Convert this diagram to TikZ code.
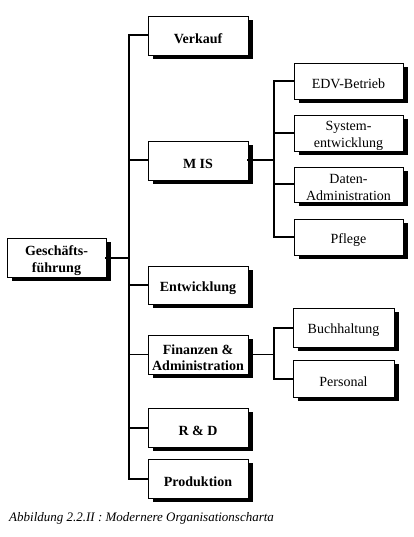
\documentclass[tikz,border=0pt]{standalone}
\usepackage{fontspec}
\setmainfont{Liberation Serif}
\usetikzlibrary{shadows}
\begin{document}
\begin{tikzpicture}[x=1pt,y=-1pt,
  box/.style={draw=black,line width=0.8pt,fill=white,rectangle,
    inner sep=0pt,
    general shadow={fill=black,shadow xshift=5pt,shadow yshift=-4pt}},
  mtxt/.style={font=\fontsize{14}{16.5}\selectfont\bfseries,align=center,inner sep=0pt,yshift=-3pt},
  stxt/.style={font=\fontsize{14}{16.5}\selectfont,align=center,inner sep=0pt,yshift=-3pt},
  mainbox/.style={box,minimum width=100pt,minimum height=39pt},
  subbox/.style={box,minimum height=36pt},
  thickline/.style={line width=2pt,line join=miter,line cap=rect},
  thinline/.style={line width=0.9pt}]
\useasboundingbox (0,0) rectangle (413,537);
% main boxes
\node[mainbox,minimum width=99pt,label={[mtxt]center:Geschäfts-\\führung}] (gf) at (56.5,257.5) {};
\node[mainbox,label={[mtxt]center:Verkauf}] (verk) at (198,35.5) {};
\node[mainbox,label={[mtxt]center:M IS}] (mis) at (198,160.5) {};
\node[mainbox,minimum height=38pt,label={[mtxt]center:Entwicklung}] (entw) at (198,285) {};
\node[mainbox,label={[mtxt]center:Finanzen \&\\Administration}] (fin) at (198,354.5) {};
\node[mainbox,label={[mtxt]center:R \& D}] (rd) at (198,427.5) {};
\node[mainbox,label={[mtxt]center:Produktion}] (prod) at (198,478.5) {};
% MIS sub boxes
\node[subbox,minimum width=109pt,label={[stxt]center:EDV-Betrieb}] (edv) at (348.5,81) {};
\node[subbox,minimum width=109pt,label={[stxt]center:System-\\entwicklung}] (sys) at (348.5,133) {};
\node[subbox,minimum width=109pt,minimum height=35pt,label={[stxt]center:Daten-\\Administration}] (dat) at (348.5,184.5) {};
\node[subbox,minimum width=109pt,label={[stxt]center:Pflege}] (pfl) at (348.5,237) {};
% Finanzen sub boxes
\node[subbox,minimum width=101pt,minimum height=39pt,label={[stxt]center:Buchhaltung}] (buch) at (343.5,327.5) {};
\node[subbox,minimum width=101pt,minimum height=37pt,label={[stxt]center:Personal}] (pers) at (343.5,378.5) {};
% coordinates of the trunks
\coordinate (tv) at (129,35.5);
\coordinate (tb) at (129,478.5);
\coordinate (mv) at (274,81);
\coordinate (mb) at (274,237);
\coordinate (fv) at (274,327.5);
\coordinate (fb) at (274,378.5);
% main trunk
\draw[thickline] (verk.west) -- (tv) -- (tb) -- (prod.west);
\draw[thickline] (gf.east) -- (gf.east -| tv);
\draw[thickline] (mis.west -| tv) -- (mis.west);
\draw[thickline] (entw.west -| tv) -- (entw.west);
\draw[thinline] (fin.west -| tv) -- (fin.west);
\draw[thickline] (rd.west -| tv) -- (rd.west);
% MIS branch
\draw[thickline] (mis.east) -- (mis.east -| mv);
\draw[thickline] (edv.west) -- (mv) -- (mb) -- (pfl.west);
\draw[thickline] (sys.west -| mv) -- (sys.west);
\draw[thickline] (dat.west -| mv) -- (dat.west);
% Finanzen branch
\draw[thinline] (fin.east) -- (fin.east -| fv);
\draw[thickline] (buch.west) -- (fv) -- (fb) -- (pers.west);
% caption
\node[anchor=west,inner sep=0pt,font=\fontsize{13}{15}\selectfont\itshape] (cap) at (9,518) {Abbildung 2.2.II : Modernere Organisationscharta};
\end{tikzpicture}
\end{document}
